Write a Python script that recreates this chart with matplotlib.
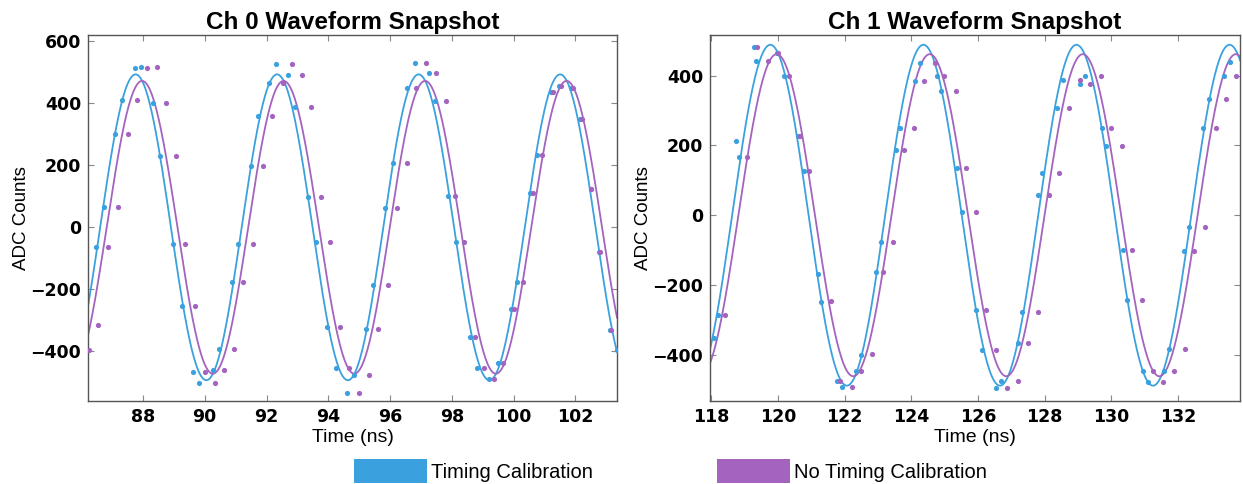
import numpy as np
import matplotlib
matplotlib.use("Agg")
import matplotlib.pyplot as plt
from matplotlib.patches import Patch

# colours
CAL_COLOR = "#3ba1de"
RAW_COLOR = "#a463bf"

# ---- Ch 0 samples ----
ch0_cal_t = [86.49, 86.73, 87.09, 87.31, 87.75, 87.93, 88.34, 88.56, 88.97, 89.25,
             89.63, 89.83, 90.27, 90.47, 90.87, 91.09, 91.50, 91.73, 92.08, 92.32,
             92.68, 92.93, 93.33, 93.59, 93.97, 94.25, 94.60, 94.84, 95.22, 95.46,
             95.84, 96.11, 96.54, 96.80, 97.25, 97.47, 97.89, 98.15, 98.59, 98.83,
             99.22, 99.48, 99.91, 100.11, 100.52, 100.76, 101.22, 101.47, 101.87, 102.15,
             102.50, 102.77, 103.13, 103.35]
ch0_cal_adc = [-65, 64, 300, 411, 514, 517, 400, 231, -55, -254,
               -465, -502, -459, -392, -176, -55, 198, 360, 465, 525,
               490, 389, 97, -48, -322, -454, -535, -476, -328, -186,
               63, 206, 449, 531, 499, 406, 101, -46, -353, -454,
               -489, -436, -265, -175, 110, 234, 436, 457, 449, 349,
               122, -79, -330, -397]
ch0_raw_t = [86.24, 86.55, 86.88, 87.18, 87.50, 87.80, 88.13, 88.46, 88.75, 89.08,
             89.37, 89.70, 90.00, 90.32, 90.63, 90.95, 91.24, 91.56, 91.89, 92.19,
             92.52, 92.83, 93.15, 93.43, 93.76, 94.07, 94.38, 94.66, 94.99, 95.31,
             95.61, 95.92, 96.23, 96.55, 96.85, 97.17, 97.49, 97.80, 98.11, 98.40,
             98.75, 99.05, 99.38, 99.67, 100.00, 100.30, 100.63, 100.92, 101.27, 101.55,
             101.92, 102.21, 102.52, 102.80, 103.15]
ch0_raw_adc = [-397, -315, -65, 64, 300, 411, 513, 517, 400, 231,
               -55, -254, -465, -502, -459, -392, -176, -55, 198, 360,
               465, 525, 490, 389, 97, -48, -322, -454, -535, -476,
               -328, -186, 63, 206, 449, 531, 499, 406, 101, -46,
               -353, -454, -489, -436, -265, -175, 110, 234, 436, 457,
               449, 349, 122, -79, -330]

# ---- Ch 1 samples ----
ch1_cal_t = [118.09, 118.21, 118.73, 118.83, 119.27, 119.33, 119.97, 120.17, 120.61, 120.77,
             121.20, 121.28, 121.78, 121.91, 122.35, 122.48, 122.95, 123.10, 123.55, 123.66,
             124.10, 124.25, 124.77, 124.90, 125.37, 125.51, 125.94, 126.11, 126.55, 126.70,
             127.19, 127.33, 127.80, 127.93, 128.38, 128.55, 129.07, 129.22, 129.72, 129.84,
             130.35, 130.48, 130.94, 131.11, 131.59, 131.73, 132.17, 132.32, 132.76, 132.93,
             133.38, 133.56]
ch1_cal_adc = [-352, -285, 214, 168, 482, 442, 464, 400, 227, 128,
               -168, -248, -475, -493, -447, -400, -163, -78, 186, 251,
               386, 436, 400, 356, 135, 9, -273, -386, -496, -476,
               -366, -279, 59, 121, 308, 389, 377, 398, 251, 198,
               -101, -244, -448, -479, -448, -383, -102, -34, 251, 333,
               398, 440]
ch1_raw_t = [118.41, 119.06, 119.36, 119.69, 120.00, 120.32, 120.67, 120.94, 121.59, 121.86,
             122.21, 122.49, 122.81, 123.15, 123.45, 123.77, 124.07, 124.39, 124.71, 124.99,
             125.33, 125.65, 125.93, 126.25, 126.55, 126.88, 127.19, 127.49, 127.81, 128.13,
             128.43, 128.74, 129.05, 129.37, 129.69, 130.00, 130.31, 130.63, 130.93, 131.26,
             131.56, 131.88, 132.20, 132.48, 132.81, 133.13, 133.43, 133.75]
ch1_raw_adc = [-285, 168, 482, 442, 464, 400, 227, 128, -247, -476,
               -492, -447, -399, -163, -78, 186, 251, 386, 436, 400,
               356, 135, 9, -273, -386, -496, -476, -366, -279, 59,
               121, 308, 389, 377, 398, 251, 198, -101, -244, -448,
               -479, -448, -383, -102, -34, 251, 333, 398]

# sine fit parameters: amplitude, time of a peak, period (ns)
ch0_cal_fit = (493, 87.76, 4.583)
ch0_raw_fit = (472, 87.97, 4.583)
ch1_cal_fit = (489, 119.77, 4.592)
ch1_raw_fit = (462, 119.96, 4.592)

ch0_xlim = (86.22, 103.35)
ch0_ylim = (-560, 620)
ch0_xticks = [88, 90, 92, 94, 96, 98, 100, 102]
ch0_yticks = [-400, -200, 0, 200, 400, 600]
ch1_xlim = (117.96, 133.86)
ch1_ylim = (-533, 517)
ch1_xticks = [118, 120, 122, 124, 126, 128, 130, 132]
ch1_yticks = [-400, -200, 0, 200, 400]


def fit_curve(params, t):
    amp, peak, period = params
    return amp * np.cos(2 * np.pi * (t - peak) / period)


def draw_panel(ax, title, cal_t, cal_adc, raw_t, raw_adc, cal_fit, raw_fit,
               xlim, ylim, xticks, yticks):
    t = np.linspace(xlim[0], xlim[1], 800)
    ax.plot(t, fit_curve(cal_fit, t), color=CAL_COLOR, linewidth=1.3)
    ax.plot(t, fit_curve(raw_fit, t), color=RAW_COLOR, linewidth=1.3)
    ax.scatter(cal_t, cal_adc, s=14, color=CAL_COLOR, linewidths=0, zorder=3)
    ax.scatter(raw_t, raw_adc, s=14, color=RAW_COLOR, linewidths=0, zorder=3)

    ax.set_xlim(*xlim)
    ax.set_ylim(*ylim)
    ax.set_xticks(xticks)
    ax.set_yticks(yticks)
    ax.set_xticklabels([str(v) for v in xticks], fontweight="bold", fontsize=12.5,
                       family="DejaVu Sans")
    ax.set_yticklabels([str(v).replace("-", "\u2212") for v in yticks], fontweight="bold",
                       fontsize=12.5, family="DejaVu Sans")
    ax.tick_params(direction="in", top=True, right=True, length=4, width=0.8,
                   color="#888888", pad=5)
    for spine in ax.spines.values():
        spine.set_color("#555555")
        spine.set_linewidth(1.0)

    ax.set_title(title, fontsize=17.5, fontweight="bold", family="Liberation Sans", pad=4)
    ax.set_xlabel("Time (ns)", fontsize=14, family="Liberation Sans", labelpad=2)
    ax.set_ylabel("ADC Counts", fontsize=13.5, family="Liberation Sans")


fig = plt.figure(figsize=(12.43, 4.84), dpi=100)
ax0 = fig.add_axes([0.0708, 0.1715, 0.4256, 0.7562])
ax1 = fig.add_axes([0.5712, 0.1715, 0.4264, 0.7562])

draw_panel(ax0, "Ch 0 Waveform Snapshot", ch0_cal_t, ch0_cal_adc, ch0_raw_t, ch0_raw_adc,
           ch0_cal_fit, ch0_raw_fit, ch0_xlim, ch0_ylim, ch0_xticks, ch0_yticks)
draw_panel(ax1, "Ch 1 Waveform Snapshot", ch1_cal_t, ch1_cal_adc, ch1_raw_t, ch1_raw_adc,
           ch1_cal_fit, ch1_raw_fit, ch1_xlim, ch1_ylim, ch1_xticks, ch1_yticks)
ax0.yaxis.set_label_coords(-0.128 + 10 / 529, 0.5)
ax1.yaxis.set_label_coords(-0.128 + 10 / 530, 0.5)

handles = [Patch(facecolor=CAL_COLOR, edgecolor="none"),
           Patch(facecolor=RAW_COLOR, edgecolor="none")]
fig.legend(handles, ["Timing Calibration", "No Timing Calibration"], ncol=2,
           loc="center left", bbox_to_anchor=(354 / 1243, 1 - 471 / 484),
           frameon=False, prop={"family": "Liberation Sans", "size": 14.5},
           handlelength=3.6, handleheight=1.4, handletextpad=0.2,
           columnspacing=6.2, borderpad=0, borderaxespad=0)

fig.savefig("out.png", dpi=100)
